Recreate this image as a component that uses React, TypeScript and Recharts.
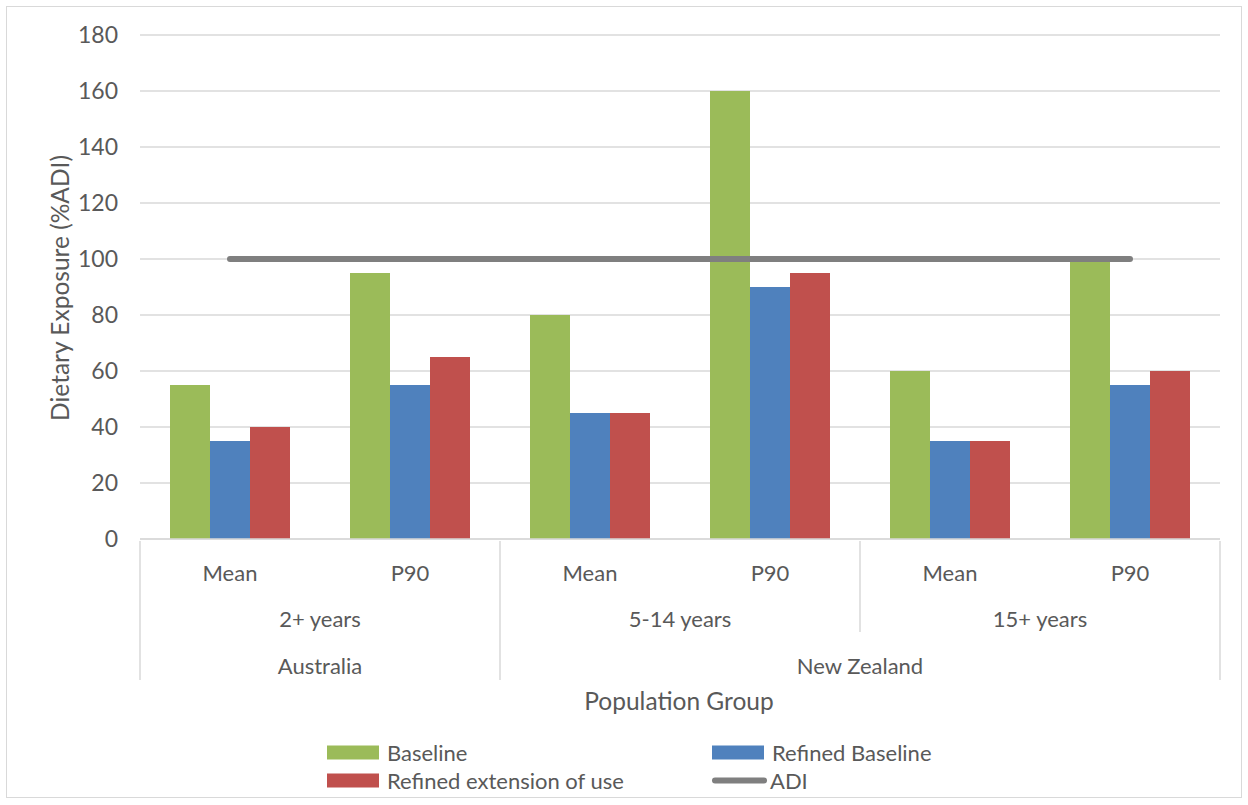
import { Bar, Line, XAxis, YAxis, CartesianGrid, ComposedChart } from 'recharts';

const stats = ['Mean', 'P90', 'Mean', 'P90', 'Mean', 'P90'];
const ageGroups = ['2+ years', '5-14 years', '15+ years'];
const ageOfCategory = [0, 0, 1, 1, 2, 2];
const countries = ['Australia', 'New Zealand'];
const countryOfAge = [0, 1, 1];

const baseline = [55, 95, 80, 160, 60, 100];
const refinedBaseline = [35, 55, 45, 90, 35, 55];
const refinedExtension = [40, 65, 45, 95, 35, 60];
const adi = [100, 100, 100, 100, 100, 100];

const yTicks = [0, 20, 40, 60, 80, 100, 120, 140, 160, 180];

const series = [
  { key: 'baseline', name: 'Baseline', color: '#9bbb59', type: 'bar' },
  { key: 'refinedBaseline', name: 'Refined Baseline', color: '#4f81bd', type: 'bar' },
  { key: 'refinedExtension', name: 'Refined extension of use', color: '#c0504d', type: 'bar' },
  { key: 'adi', name: 'ADI', color: '#7f7f7f', type: 'line' },
];

const data = stats.map((s, i) => ({
  stat: s,
  baseline: baseline[i],
  refinedBaseline: refinedBaseline[i],
  refinedExtension: refinedExtension[i],
  adi: adi[i],
}));

const FONT = 'Lato, "Noto Sans", sans-serif';
const TEXT = '#595959';
const GRID = '#d9d9d9';
const BAND = 180;

function MultiTick(props: any) {
  const { x, y, payload } = props;
  const i = payload.index;
  const axisY = y - 6;
  const age = ageOfCategory[i];
  const firstOfAge = i === 0 || ageOfCategory[i - 1] !== age;
  const country = countryOfAge[age];
  const firstOfCountry = firstOfAge && (age === 0 || countryOfAge[age - 1] !== country);
  const isLast = i === stats.length - 1;
  const ageCount = ageOfCategory.filter((a) => a === age).length;
  const countryCount = ageOfCategory.filter((a) => countryOfAge[a] === country).length;
  const left = x - BAND / 2;
  const textProps = { fill: TEXT, fontSize: 22, fontFamily: FONT, textAnchor: 'middle' as const, dominantBaseline: 'central' as const };
  return (
    <g>
      <text x={x} y={axisY + 31} {...textProps}>{payload.value}</text>
      {firstOfAge && (
        <text x={left + (ageCount * BAND) / 2} y={axisY + 77} {...textProps}>{ageGroups[age]}</text>
      )}
      {firstOfCountry && (
        <text x={left + (countryCount * BAND) / 2} y={axisY + 124} {...textProps}>{countries[country]}</text>
      )}
      {firstOfCountry && <line x1={left} x2={left} y1={axisY} y2={axisY + 139} stroke={GRID} strokeWidth={1.5} />}
      {firstOfAge && !firstOfCountry && <line x1={left} x2={left} y1={axisY} y2={axisY + 91} stroke={GRID} strokeWidth={1.5} />}
      {isLast && <line x1={x + BAND / 2} x2={x + BAND / 2} y1={axisY} y2={axisY + 139} stroke={GRID} strokeWidth={1.5} />}
    </g>
  );
}

export default function App() {
  return (
    <div style={{ position: 'absolute', left: 0, top: 0, width: 1248, height: 805, background: '#fff', fontFamily: FONT }}>
      <div style={{ position: 'absolute', left: 6, top: 6, width: 1234, height: 790, border: `1.5px solid ${GRID}` }} />
      <div style={{ position: 'absolute', left: 0, top: 0 }}>
        <ComposedChart width={1248} height={805} data={data} margin={{ top: 35, right: 28, left: 30, bottom: 116 }} barGap={0} barCategoryGap={30}>
          <CartesianGrid vertical={false} stroke={GRID} strokeWidth={1.5} />
          <XAxis dataKey="stat" interval={0} tickLine={false} axisLine={{ stroke: GRID, strokeWidth: 1.5 }} height={150} tick={<MultiTick />} />
          <YAxis
            width={110}
            domain={[0, 180]}
            ticks={yTicks}
            tickLine={false}
            axisLine={false}
            tickMargin={16}
            tick={{ fill: TEXT, fontSize: 23, fontFamily: FONT }}
          />
          {series.filter((s) => s.type === 'bar').map((s) => (
            <Bar key={s.key} dataKey={s.key} name={s.name} fill={s.color} isAnimationActive={false} />
          ))}
          <Line dataKey="adi" name="ADI" stroke="#7f7f7f" strokeWidth={6} strokeLinecap="round" dot={false} activeDot={false} isAnimationActive={false} />
        </ComposedChart>
      </div>
      <div style={{ position: 'absolute', left: 59, top: 288, transform: 'translate(-50%, -50%) rotate(-90deg)', whiteSpace: 'nowrap', fontSize: 24.5, color: TEXT }}>
        Dietary Exposure (%ADI)
      </div>
      <div style={{ position: 'absolute', left: 679, top: 700, transform: 'translate(-50%, -50%)', whiteSpace: 'nowrap', fontSize: 24.5, color: TEXT }}>
        Population Group
      </div>
      {series.map((s, i) => {
        const col = i % 2;
        const row = Math.floor(i / 2);
        return (
          <div key={s.key} style={{ position: 'absolute', left: col === 0 ? 327 : 712, top: 752 + row * 28, transform: 'translateY(-50%)', display: 'flex', alignItems: 'center', whiteSpace: 'nowrap', fontSize: 22, color: TEXT }}>
            {s.type === 'bar' ? (
              <span style={{ display: 'inline-block', width: 52, height: 14, background: s.color }} />
            ) : (
              <span style={{ display: 'inline-block', width: 55, height: 6, borderRadius: 3, background: s.color }} />
            )}
            <span style={{ marginLeft: s.type === 'bar' ? 8 : 3 }}>{s.name}</span>
          </div>
        );
      })}
    </div>
  );
}
